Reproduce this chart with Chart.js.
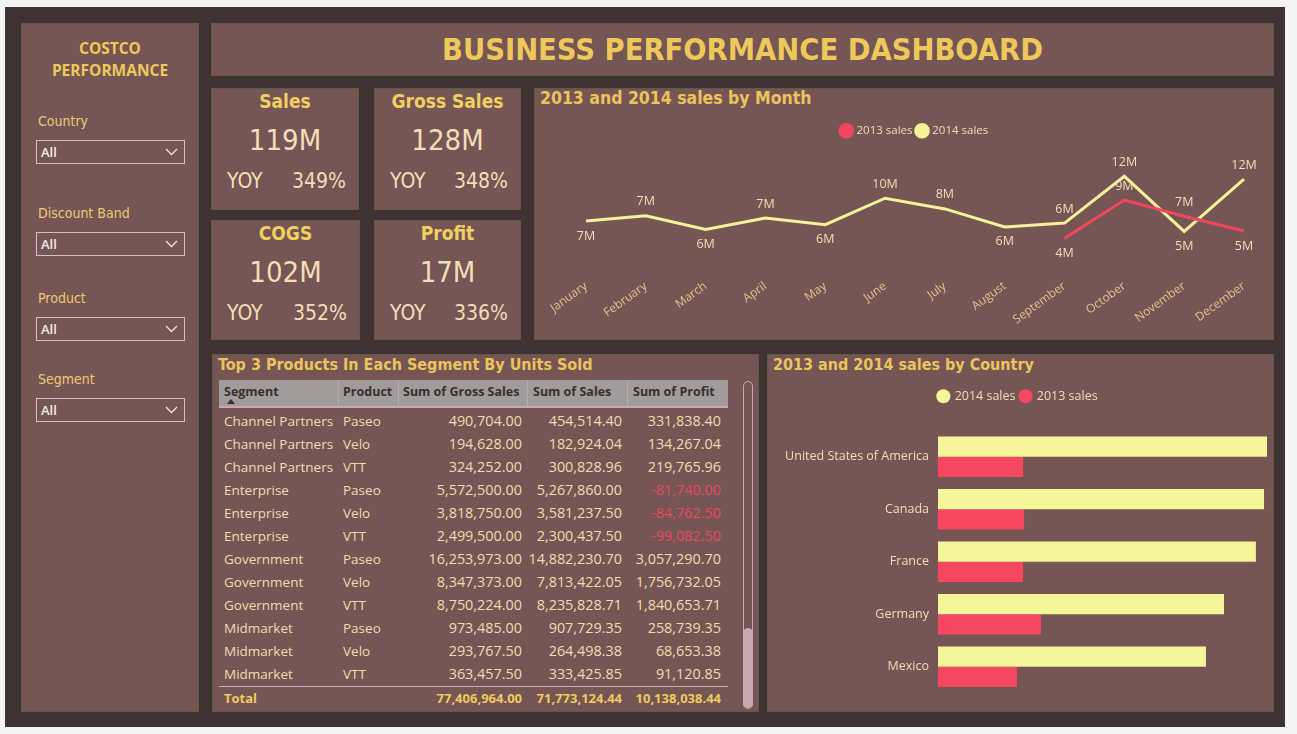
<!DOCTYPE html>
<html>
<head>
<meta charset="utf-8">
<script src="https://cdn.jsdelivr.net/npm/chart.js@4.4.1/dist/chart.umd.min.js"></script>
<style>
  html,body{margin:0;padding:0;background:#f4f4f4;width:1297px;height:734px;overflow:hidden;}
  .abs{position:absolute;box-sizing:border-box;}
  #frame{left:5px;top:7px;width:1280px;height:720px;background:#3e3232;}
  .panel{background:#765555;border:1.5px solid #625a40;}
  .din{font-family:"Liberation Sans Narrow","DejaVu Sans Condensed","Roboto",sans-serif;}
  .seg{font-family:"Open Sans","Noto Sans",sans-serif;}
  .ctitle{color:#EAC45C;font-size:16px;font-weight:bold;white-space:nowrap;}
  .kpi .t{position:absolute;left:0;right:0;top:1px;text-align:center;color:#EFD060;font-size:19px;font-weight:bold;}
  .kpi .v{position:absolute;left:0;right:0;top:34px;text-align:center;color:#F2DEB9;font-size:29px;}
  .kpi .y{position:absolute;left:15px;top:80px;color:#F2DEB9;font-size:21px;}
  .kpi .p{position:absolute;right:12px;top:80px;color:#F2DEB9;font-size:21px;}
  .slab{color:#EBCB72;font-size:14px;}
  .dd{border:1px solid #D9BFC4;width:149px;height:24px;color:#F5EEE6;font-size:13px;font-weight:600;padding-left:4px;line-height:22px;}
  table{border-collapse:collapse;}
  #tbl td{height:23px;padding:0;color:#F1DCB0;font-size:13.5px;white-space:nowrap;}
  #tbl td.n{text-align:right;font-size:14.4px;}
  #tbl td.neg{color:#E8475F;}
</style>
</head>
<body>
<div id="frame" class="abs"></div>

<!-- sidebar -->
<div class="abs panel" style="left:21px;top:23px;width:178px;height:689px;"></div>
<div class="abs seg" style="left:21px;top:37px;width:178px;text-align:center;color:#EBCB5C;font-size:15.5px;font-weight:bold;line-height:22px;">COSTCO<br>PERFORMANCE</div>
<div id="slicers"></div>

<!-- title -->
<div class="abs panel" style="left:211px;top:23px;width:1063px;height:53px;"></div>
<div class="abs din" style="left:211px;top:32px;width:1063px;text-align:center;color:#EDC85A;font-size:30.5px;font-weight:bold;">BUSINESS PERFORMANCE DASHBOARD</div>

<div id="kpis"></div>

<!-- line chart -->
<div class="abs panel" style="left:534px;top:88px;width:740px;height:252px;"></div>
<div class="abs din ctitle" style="left:540px;top:88px;font-size:17.5px;">2013 and 2014 sales by Month</div>
<div class="abs" style="left:534px;top:88px;width:739px;height:251px;"><canvas id="lineChart" width="739" height="251"></canvas></div>

<!-- table -->
<div class="abs panel" style="left:212px;top:354px;width:547px;height:358px;"></div>
<div class="abs din ctitle" style="left:218px;top:355px;">Top 3 Products In Each Segment By Units Sold</div>
<div class="abs" style="left:219px;top:380px;width:509px;height:28px;background:#A19C9B;border-bottom:2px solid #C7A9AE;"></div>
<div id="hdr"></div>
<div class="abs" style="left:219px;top:409px;width:509px;" id="tblwrap"></div>
<div class="abs" style="left:219px;top:686px;width:509px;height:1px;background:#D3A9B0;"></div>
<div id="tot"></div>
<div class="abs" style="left:743px;top:381px;width:10px;height:328px;border:1.5px solid #C9A9B0;border-radius:6px;"></div>
<div class="abs" style="left:743px;top:628px;width:10px;height:80px;background:#C9A9B0;border-radius:6px;"></div>

<!-- bar chart -->
<div class="abs panel" style="left:767px;top:354px;width:507px;height:358px;"></div>
<div class="abs din ctitle" style="left:773px;top:355px;">2013 and 2014 sales by Country</div>
<div class="abs" style="left:767px;top:354px;width:506px;height:357px;"><canvas id="barChart" width="506" height="357"></canvas></div>

<script>
// ---------------- data ----------------
const months = ["January","February","March","April","May","June","July","August","September","October","November","December"];
const sales2014 = [6.61, 7.30, 5.54, 7.01, 6.15, 9.52, 8.16, 5.87, 6.36, 12.31, 5.30, 11.94];
const sales2013 = [null, null, null, null, null, null, null, null, 4.41, 9.29, 7.22, 5.35];

const countries = ["United States of America","Canada","France","Germany","Mexico"];
const country2014 = [19.88, 19.70, 19.21, 17.28, 16.19];
const country2013 = [5.14, 5.20, 5.14, 6.22, 4.77];

const kpiNames = ["Sales","Gross Sales","COGS","Profit"];
const kpiValues = ["119M","128M","102M","17M"];
const kpiYoy = ["349%","348%","352%","336%"];

const slicerNames = ["Country","Discount Band","Product","Segment"];

const tableHeaders = ["Segment","Product","Sum of Gross Sales","Sum of Sales","Sum of Profit"];
const tSegment = ["Channel Partners","Channel Partners","Channel Partners","Enterprise","Enterprise","Enterprise","Government","Government","Government","Midmarket","Midmarket","Midmarket"];
const tProduct = ["Paseo","Velo","VTT","Paseo","Velo","VTT","Paseo","Velo","VTT","Paseo","Velo","VTT"];
const tGross = [490704.00,194628.00,324252.00,5572500.00,3818750.00,2499500.00,16253973.00,8347373.00,8750224.00,973485.00,293767.50,363457.50];
const tSales = [454514.40,182924.04,300828.96,5267860.00,3581237.50,2300437.50,14882230.70,7813422.05,8235828.71,907729.35,264498.38,333425.85];
const tProfit = [331838.40,134267.04,219765.96,-81740.00,-84762.50,-99082.50,3057290.70,1756732.05,1840653.71,258739.35,68653.38,91120.85];
const tTotals = [77406964.00, 71773124.44, 10138038.44];

// ---------------- HTML parts ----------------
const fmt = v => v.toLocaleString('en-US',{minimumFractionDigits:2,maximumFractionDigits:2});

const kpiPos = [[211,88,148,122],[374,88,147,122],[211,220,149,120],[374,220,147,120]];
let kh = "";
kpiNames.forEach((n,i)=>{
  const p = kpiPos[i];
  kh += `<div class="abs panel kpi din" style="left:${p[0]}px;top:${p[1]}px;width:${p[2]}px;height:${p[3]}px;">
    <div class="t">${n}</div><div class="v">${kpiValues[i]}</div>
    <div class="y">YOY</div><div class="p">${kpiYoy[i]}</div></div>`;
});
document.getElementById('kpis').innerHTML = kh;

const slTop = [113, 205, 290, 371];
let sh = "";
slicerNames.forEach((n,i)=>{
  sh += `<div class="abs din slab" style="left:38px;top:${slTop[i]}px;">${n}</div>
  <div class="abs dd seg" style="left:36px;top:${slTop[i]+27}px;">All
   <svg style="position:absolute;right:6px;top:7px" width="13" height="8"><polyline points="1,1 6.5,6.5 12,1" fill="none" stroke="#F0E6E0" stroke-width="1.3"/></svg></div>`;
});
document.getElementById('slicers').innerHTML = sh;

// header
const hdrX = [224,343,403,533,633];
let hh = "";
tableHeaders.forEach((h,i)=>{
  hh += `<div class="abs seg" style="left:${hdrX[i]}px;top:383px;color:#3A2E2E;font-size:12.5px;font-weight:bold;">${h}</div>`;
});
hh += `<div class="abs" style="left:227px;top:399px;width:0;height:0;border-left:4px solid transparent;border-right:4px solid transparent;border-bottom:5px solid #3A2E2E;"></div>`;
[338,398,527,627].forEach(x=>{ hh += `<div class="abs" style="left:${x}px;top:380px;width:1px;height:28px;background:#B3AEAD;"></div>`; });
document.getElementById('hdr').innerHTML = hh;

let th = '<table id="tbl" class="seg"><colgroup><col style="width:124px"><col style="width:55px"><col style="width:124px"><col style="width:100px"><col style="width:99px"></colgroup>';
tSegment.forEach((s,i)=>{
  th += `<tr><td style="padding-left:5px">${s}</td><td>${tProduct[i]}</td><td class="n">${fmt(tGross[i])}</td><td class="n">${fmt(tSales[i])}</td><td class="n${tProfit[i]<0?' neg':''}">${fmt(tProfit[i])}</td></tr>`;
});
th += '</table>';
document.getElementById('tblwrap').innerHTML = th;

const totRight = [522, 622, 721];
let toth = `<div class="abs seg" style="left:224px;top:689px;color:#EDCB5E;font-size:13px;font-weight:bold;">Total</div>`;
tTotals.forEach((v,i)=>{
  toth += `<div class="abs seg" style="left:${totRight[i]-130}px;width:130px;text-align:right;top:689px;color:#EDCB5E;font-size:13px;font-weight:bold;">${fmt(v)}</div>`;
});
document.getElementById('tot').innerHTML = toth;

// ---------------- Charts ----------------
const YEL = '#F5F29A', RED = '#F0475F', CREAM = '#F2DEB9', TAN = '#E6C08C';
const labelFont = '"Open Sans","Noto Sans",sans-serif';

const legendMargin = {
  id:'legendMargin',
  beforeInit(chart, args, opts){
    const fit = chart.legend.fit;
    chart.legend.fit = function(){ fit.bind(chart.legend)(); this.height += (opts.extra||0); };
  }
};

const dataLabels = {
  id:'dataLabels',
  afterDatasetsDraw(chart){
    const ctx = chart.ctx;
    ctx.save();
    ctx.font = '12.5px ' + labelFont;
    ctx.fillStyle = CREAM;
    ctx.textAlign = 'center';
    ctx.textBaseline = 'middle';
    chart.data.datasets.forEach((ds, di)=>{
      const meta = chart.getDatasetMeta(di);
      ds.data.forEach((v,i)=>{
        if(v===null) return;
        const pt = meta.data[i];
        const prev = i>0 ? ds.data[i-1] : null;
        const next = i<ds.data.length-1 ? ds.data[i+1] : null;
        const below = (prev===null || v<prev) && (next===null || v<next);
        ctx.fillText(Math.round(v)+'M', pt.x, pt.y + (below ? 15 : -14));
      });
    });
    ctx.restore();
  }
};

new Chart(document.getElementById('lineChart'), {
  type:'line',
  data:{
    labels: months,
    datasets:[
      {label:'2013 sales', data:sales2013, borderColor:RED, backgroundColor:RED, borderWidth:3, pointRadius:0, pointHoverRadius:0, tension:0, spanGaps:false},
      {label:'2014 sales', data:sales2014, borderColor:YEL, backgroundColor:YEL, borderWidth:3, pointRadius:0, pointHoverRadius:0, tension:0}
    ]
  },
  options:{
    responsive:false, animation:false, events:[],
    layout:{padding:{left:52, right:29, top:32, bottom:0}},
    plugins:{
      legend:{position:'top', align:'center',
        labels:{usePointStyle:true, pointStyle:'circle', boxWidth:9, boxHeight:9, padding:5, color:CREAM, font:{family:labelFont, size:11.5}}},
      legendMargin:{extra:4},
      tooltip:{enabled:false}
    },
    scales:{
      x:{grid:{display:false, drawTicks:false}, border:{display:false},
         ticks:{color:TAN, font:{family:labelFont, size:12}, minRotation:36, maxRotation:36, padding:6, autoSkip:false},
         afterFit(s){ s.height = 66; }},
      y:{display:false, min:0, max:15.6}
    }
  },
  plugins:[legendMargin, dataLabels]
});

new Chart(document.getElementById('barChart'), {
  type:'bar',
  data:{
    labels: countries,
    datasets:[
      {label:'2014 sales', data:country2014, backgroundColor:'#F5F59A', borderWidth:0},
      {label:'2013 sales', data:country2013, backgroundColor:'#F5475F', borderWidth:0}
    ]
  },
  options:{
    indexAxis:'y', responsive:false, animation:false, events:[],
    categoryPercentage:0.77, barPercentage:1.0,
    layout:{padding:{left:0, right:4, top:31, bottom:18}},
    plugins:{
      legend:{position:'top', align:'center',
        labels:{usePointStyle:true, pointStyle:'circle', boxWidth:10, boxHeight:10, padding:5, color:CREAM, font:{family:labelFont, size:12.5}}},
      legendMargin:{extra:18},
      tooltip:{enabled:false}
    },
    scales:{
      x:{display:false, min:0, max:20},
      y:{grid:{display:false, drawTicks:false}, border:{display:false},
         ticks:{color:CREAM, font:{family:labelFont, size:12.5}, padding:9},
         afterFit(s){ s.width = 171; }}
    }
  },
  plugins:[legendMargin]
});
</script>
</body>
</html>
